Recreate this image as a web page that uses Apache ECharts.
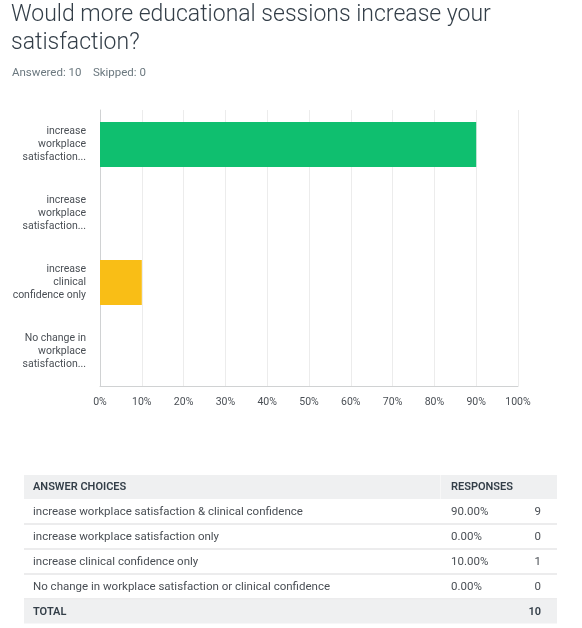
<!DOCTYPE html>
<html>
<head>
<meta charset="utf-8">
<script src="https://cdn.jsdelivr.net/npm/echarts@6/dist/echarts.min.js"></script>
<style>
html,body{margin:0;padding:0;background:#fff;}
#chart{width:582px;height:628px;}
</style>
</head>
<body>
<div id="chart"></div>
<script>
// ---- data ----
var titleText = 'Would more educational sessions increase your\nsatisfaction?';
var subText = 'Answered: 10    Skipped: 0';
var choices = [
  'increase workplace satisfaction & clinical confidence',
  'increase workplace satisfaction only',
  'increase clinical confidence only',
  'No change in workplace satisfaction or clinical confidence'
];
var axisLabels = [
  'increase\nworkplace\nsatisfaction...',
  'increase\nworkplace\nsatisfaction...',
  'increase\nclinical\nconfidence only',
  'No change in\nworkplace\nsatisfaction...'
];
var percents = [90, 0, 10, 0];
var counts = [9, 0, 1, 0];
var percentLabels = ['90.00%', '0.00%', '10.00%', '0.00%'];
var totalCount = 10;
var barColors = ['#0fbf6f', '#0fbf6f', '#f9be16', '#0fbf6f'];
var xTicks = [0, 10, 20, 30, 40, 50, 60, 70, 80, 90, 100];

var FONT = 'Roboto, "Open Sans", sans-serif';

// ---- table graphic ----
var tLeft = 24, tRight = 557, tTop = 475, headH = 24, rowH = 25;
var colPct = 451, colCnt = 541;
var g = [];
g.push({type:'rect', shape:{x:tLeft, y:tTop, width:tRight - tLeft, height:headH}, style:{fill:'#eff0f1'}});
g.push({type:'rect', shape:{x:440, y:tTop, width:1, height:headH}, style:{fill:'#f7f7f7'}});
g.push({type:'text', x:33, y:tTop + headH/2 + 0.5, style:{text:'ANSWER CHOICES', fill:'#333e48', font:'600 11px ' + FONT, textVerticalAlign:'middle'}});
g.push({type:'text', x:colPct, y:tTop + headH/2 + 0.5, style:{text:'RESPONSES', fill:'#333e48', font:'600 11px ' + FONT, textVerticalAlign:'middle'}});
for (var i = 0; i < choices.length; i++) {
  var yTop = tTop + headH + i * rowH;
  var yc = yTop + rowH/2 + 1;
  g.push({type:'text', x:33, y:yc, style:{text:choices[i], fill:'#4a4f55', font:'11.5px ' + FONT, textVerticalAlign:'middle'}});
  g.push({type:'text', x:colPct, y:yc, style:{text:percentLabels[i], fill:'#4a4f55', font:'11.5px ' + FONT, textVerticalAlign:'middle'}});
  g.push({type:'text', x:colCnt, y:yc, style:{text:String(counts[i]), fill:'#4a4f55', font:'11.5px ' + FONT, textAlign:'right', textVerticalAlign:'middle'}});
  g.push({type:'rect', shape:{x:tLeft, y:yTop + rowH - 0.5, width:tRight - tLeft, height:1}, style:{fill:'#d9dadb'}});
}
var totTop = tTop + headH + choices.length * rowH;
g.push({type:'rect', shape:{x:tLeft, y:totTop + 0.5, width:tRight - tLeft, height:rowH - 1}, style:{fill:'#eff0f1'}});
g.push({type:'text', x:33, y:totTop + rowH/2 + 0.5, style:{text:'TOTAL', fill:'#333e48', font:'600 11px ' + FONT, textVerticalAlign:'middle'}});
g.push({type:'text', x:colCnt, y:totTop + rowH/2 + 0.5, style:{text:String(totalCount), fill:'#333e48', font:'600 11px ' + FONT, textAlign:'right', textVerticalAlign:'middle'}});

var chart = echarts.init(document.getElementById('chart'), null, {renderer:'canvas'});
chart.setOption({
  backgroundColor:'#fff',
  animation:false,
  title:[
    {text:titleText, left:11, top:1, padding:0, textStyle:{fontFamily:FONT, fontWeight:300, fontSize:23, lineHeight:28, color:'#333e48'}},
    {text:subText, left:12, top:67, padding:0, textStyle:{fontFamily:FONT, fontWeight:400, fontSize:11.5, color:'#6b787f'}}
  ],
  grid:{left:100, right:64, top:110, height:276, containLabel:false},
  xAxis:{
    type:'value', min:0, max:100, interval:10,
    axisLine:{show:true, lineStyle:{color:'#d0d2d3', width:1}},
    axisTick:{show:false},
    splitLine:{show:true, lineStyle:{color:'#ececec', width:1}},
    axisLabel:{formatter:'{value}%', color:'#4a4f55', fontFamily:FONT, fontSize:10.5, margin:11}
  },
  yAxis:{
    type:'category', inverse:true, data:axisLabels,
    axisLine:{show:true, lineStyle:{color:'#d0d2d3', width:1}},
    axisTick:{show:false},
    axisLabel:{color:'#4a4f55', fontFamily:FONT, fontSize:10.5, lineHeight:13, margin:14, align:'right', padding:[3,0,0,0]}
  },
  series:[{
    type:'bar', barWidth:'65%',
    data:percents.map(function(v, i){ return {value:v, itemStyle:{color:barColors[i]}}; })
  }],
  graphic:g
});
</script>
</body>
</html>
